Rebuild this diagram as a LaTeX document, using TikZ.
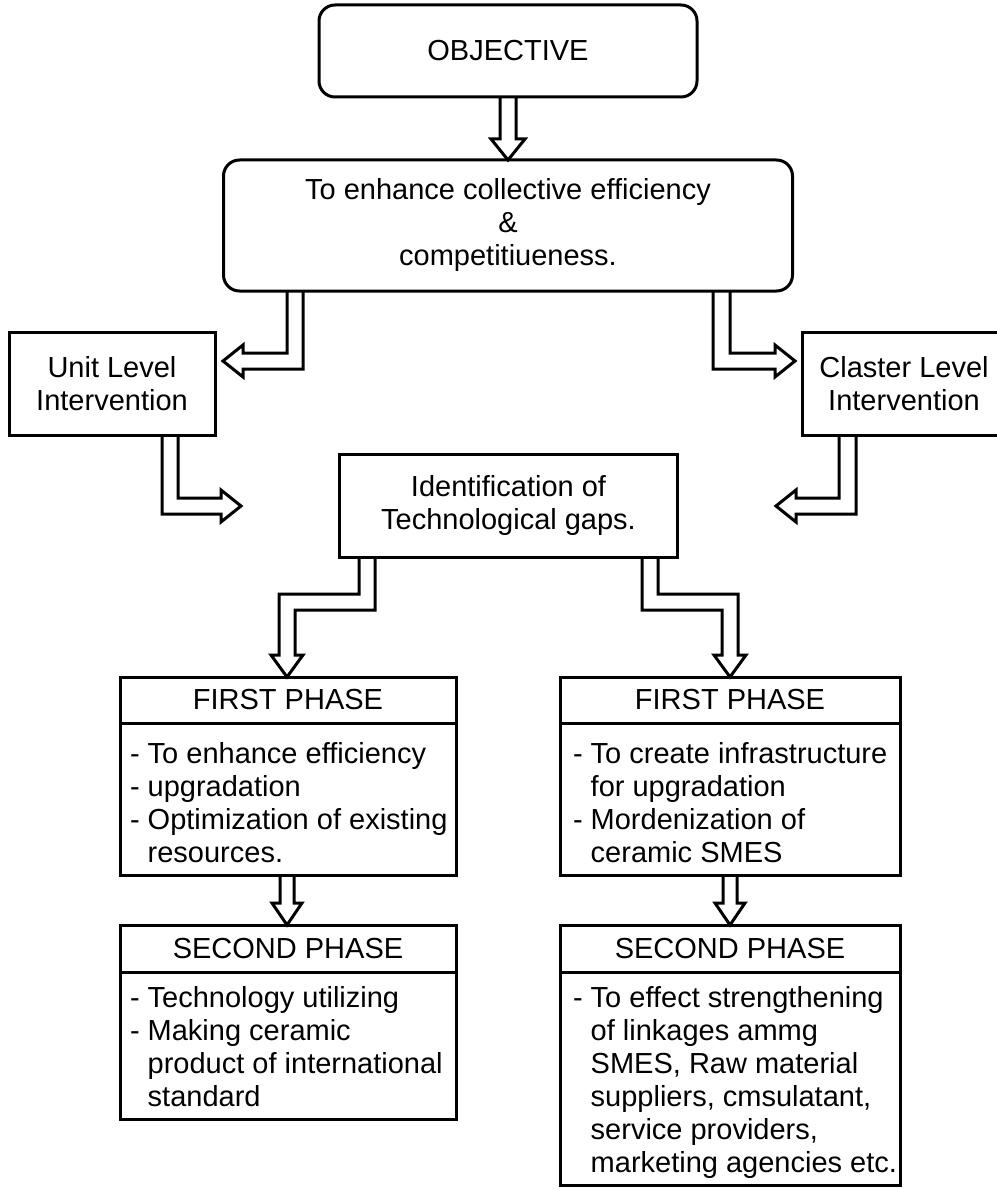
\documentclass[tikz,border=0pt]{standalone}
\usepackage{fontspec}
\setmainfont{Liberation Sans}
\usetikzlibrary{calc}

\begin{document}
\begin{tikzpicture}[x=1pt,y=-1pt,
  line width=3pt,
  txt/.style={font=\fontsize{29}{33}\selectfont},
  rbox/.style={draw, rounded corners=16pt, inner sep=0pt, outer sep=0pt, txt, align=center},
  sbox/.style={draw, inner sep=0pt, outer sep=0pt, txt, align=center},
  body/.style={txt, align=left, inner sep=0pt, outer sep=0pt, anchor=north west},
  hollow/.style={draw, line width=3pt, line join=miter},
]
\useasboundingbox (0,0) rectangle (996,1190);
\fill[white] (0,0) rectangle (996,1190);

% top of the chart
\node[rbox, minimum width=378pt, minimum height=92pt] (obj) at (508,51) {OBJECTIVE};
\node[rbox, minimum width=569pt, minimum height=131pt] (coll) at (508,225.5)
  {To enhance collective efficiency\\\&\\competitiueness.};

% the two levels of intervention
\node[sbox, minimum width=206pt, minimum height=103pt] (unit) at (112,383.5) {Unit Level\\Intervention};
\node[sbox, minimum width=204pt, minimum height=103pt] (clst) at (904,383.5) {Claster Level\\Intervention};

\node[sbox, minimum width=338pt, minimum height=103pt] (gaps) at (508.5,505.5)
  {Identification of\\Technological gaps.};

% left column of phases
\node[sbox, minimum width=336pt, minimum height=46pt] (p1h) at (288,700) {FIRST PHASE};
\node[sbox, minimum width=336pt, minimum height=152pt, anchor=north] (p1b) at (p1h.south) {};
\node[body] (p1t) at ($(p1b.north west)+(10,16)$)
  {\rule{0pt}{24pt}- To enhance efficiency\\- upgradation\\- Optimization of existing\\\hphantom{- }resources.};

\node[sbox, minimum width=336pt, minimum height=47pt] (p2h) at (288,948.5) {SECOND PHASE};
\node[sbox, minimum width=336pt, minimum height=147pt, anchor=north] (p2b) at (p2h.south) {};
\node[body] (p2t) at ($(p2b.north west)+(10,11)$)
  {\rule{0pt}{24pt}- Technology utilizing\\- Making ceramic\\\hphantom{- }product of international\\\hphantom{- }standard};

% right column of phases
\node[sbox, minimum width=340pt, minimum height=46pt] (q1h) at (730,700) {FIRST PHASE};
\node[sbox, minimum width=340pt, minimum height=152pt, anchor=north] (q1b) at (q1h.south) {};
\node[body] (q1t) at ($(q1b.north west)+(13,16)$)
  {\rule{0pt}{24pt}- To create infrastructure\\\hphantom{- }for upgradation\\- Mordenization of\\\hphantom{- }ceramic SMES};

\node[sbox, minimum width=340pt, minimum height=47pt] (q2h) at (730,948.5) {SECOND PHASE};
\node[sbox, minimum width=340pt, minimum height=213pt, anchor=north] (q2b) at (q2h.south) {};
\node[body] (q2t) at ($(q2b.north west)+(13,11)$)
  {\rule{0pt}{24pt}- To effect strengthening\\\hphantom{- }of linkages ammg\\\hphantom{- }SMES, Raw material\\\hphantom{- }suppliers, cmsulatant,\\\hphantom{- }service providers,\\\hphantom{- }marketing agencies etc.};

% hollow block arrows
\draw[hollow] ($(obj.south)+(-8,0)$) -- ($(coll.north)+(-8,-21)$) -- ($(coll.north)+(-17,-21)$)
  -- (coll.north) -- ($(coll.north)+(17,-21)$) -- ($(coll.north)+(8,-21)$) -- ($(obj.south)+(8,0)$);

\draw[hollow] (287,0 |- coll.south) -- (287,353) -- (243,353) -- (243,345) -- (223,361)
  -- (243,377) -- (243,369) -- (303,369) -- (303,0 |- coll.south);
\draw[hollow] (730,0 |- coll.south) -- (730,353) -- (775,353) -- (775,345) -- (795,361)
  -- (775,377) -- (775,369) -- (713,369) -- (713,0 |- coll.south);

\draw[hollow] (178,0 |- unit.south) -- (178,498) -- (221,498) -- (221,490) -- (241,506)
  -- (221,522) -- (221,514) -- (162,514) -- (162,0 |- unit.south);
\draw[hollow] (839,0 |- clst.south) -- (839,498) -- (796,498) -- (796,490) -- (776,506)
  -- (796,522) -- (796,514) -- (856,514) -- (856,0 |- clst.south);

\draw[hollow] (359,0 |- gaps.south) -- (359,594) -- (279,594) -- (279,655) -- (271,655)
  -- (287,0 |- p1h.north) -- (303,655) -- (295,655) -- (295,610) -- (375,610) -- (375,0 |- gaps.south);
\draw[hollow] (642,0 |- gaps.south) -- (642,610) -- (722,610) -- (722,655) -- (714,655)
  -- (730,0 |- q1h.north) -- (746,655) -- (738,655) -- (738,594) -- (658,594) -- (658,0 |- gaps.south);

\draw[hollow] (280,0 |- p1b.south) -- (280,903) -- (272,903) -- (287,0 |- p2h.north)
  -- (302,903) -- (294,903) -- (294,0 |- p1b.south);
\draw[hollow] (723,0 |- q1b.south) -- (723,903) -- (715,903) -- (730,0 |- q2h.north)
  -- (745,903) -- (737,903) -- (737,0 |- q1b.south);
\end{tikzpicture}
\end{document}
